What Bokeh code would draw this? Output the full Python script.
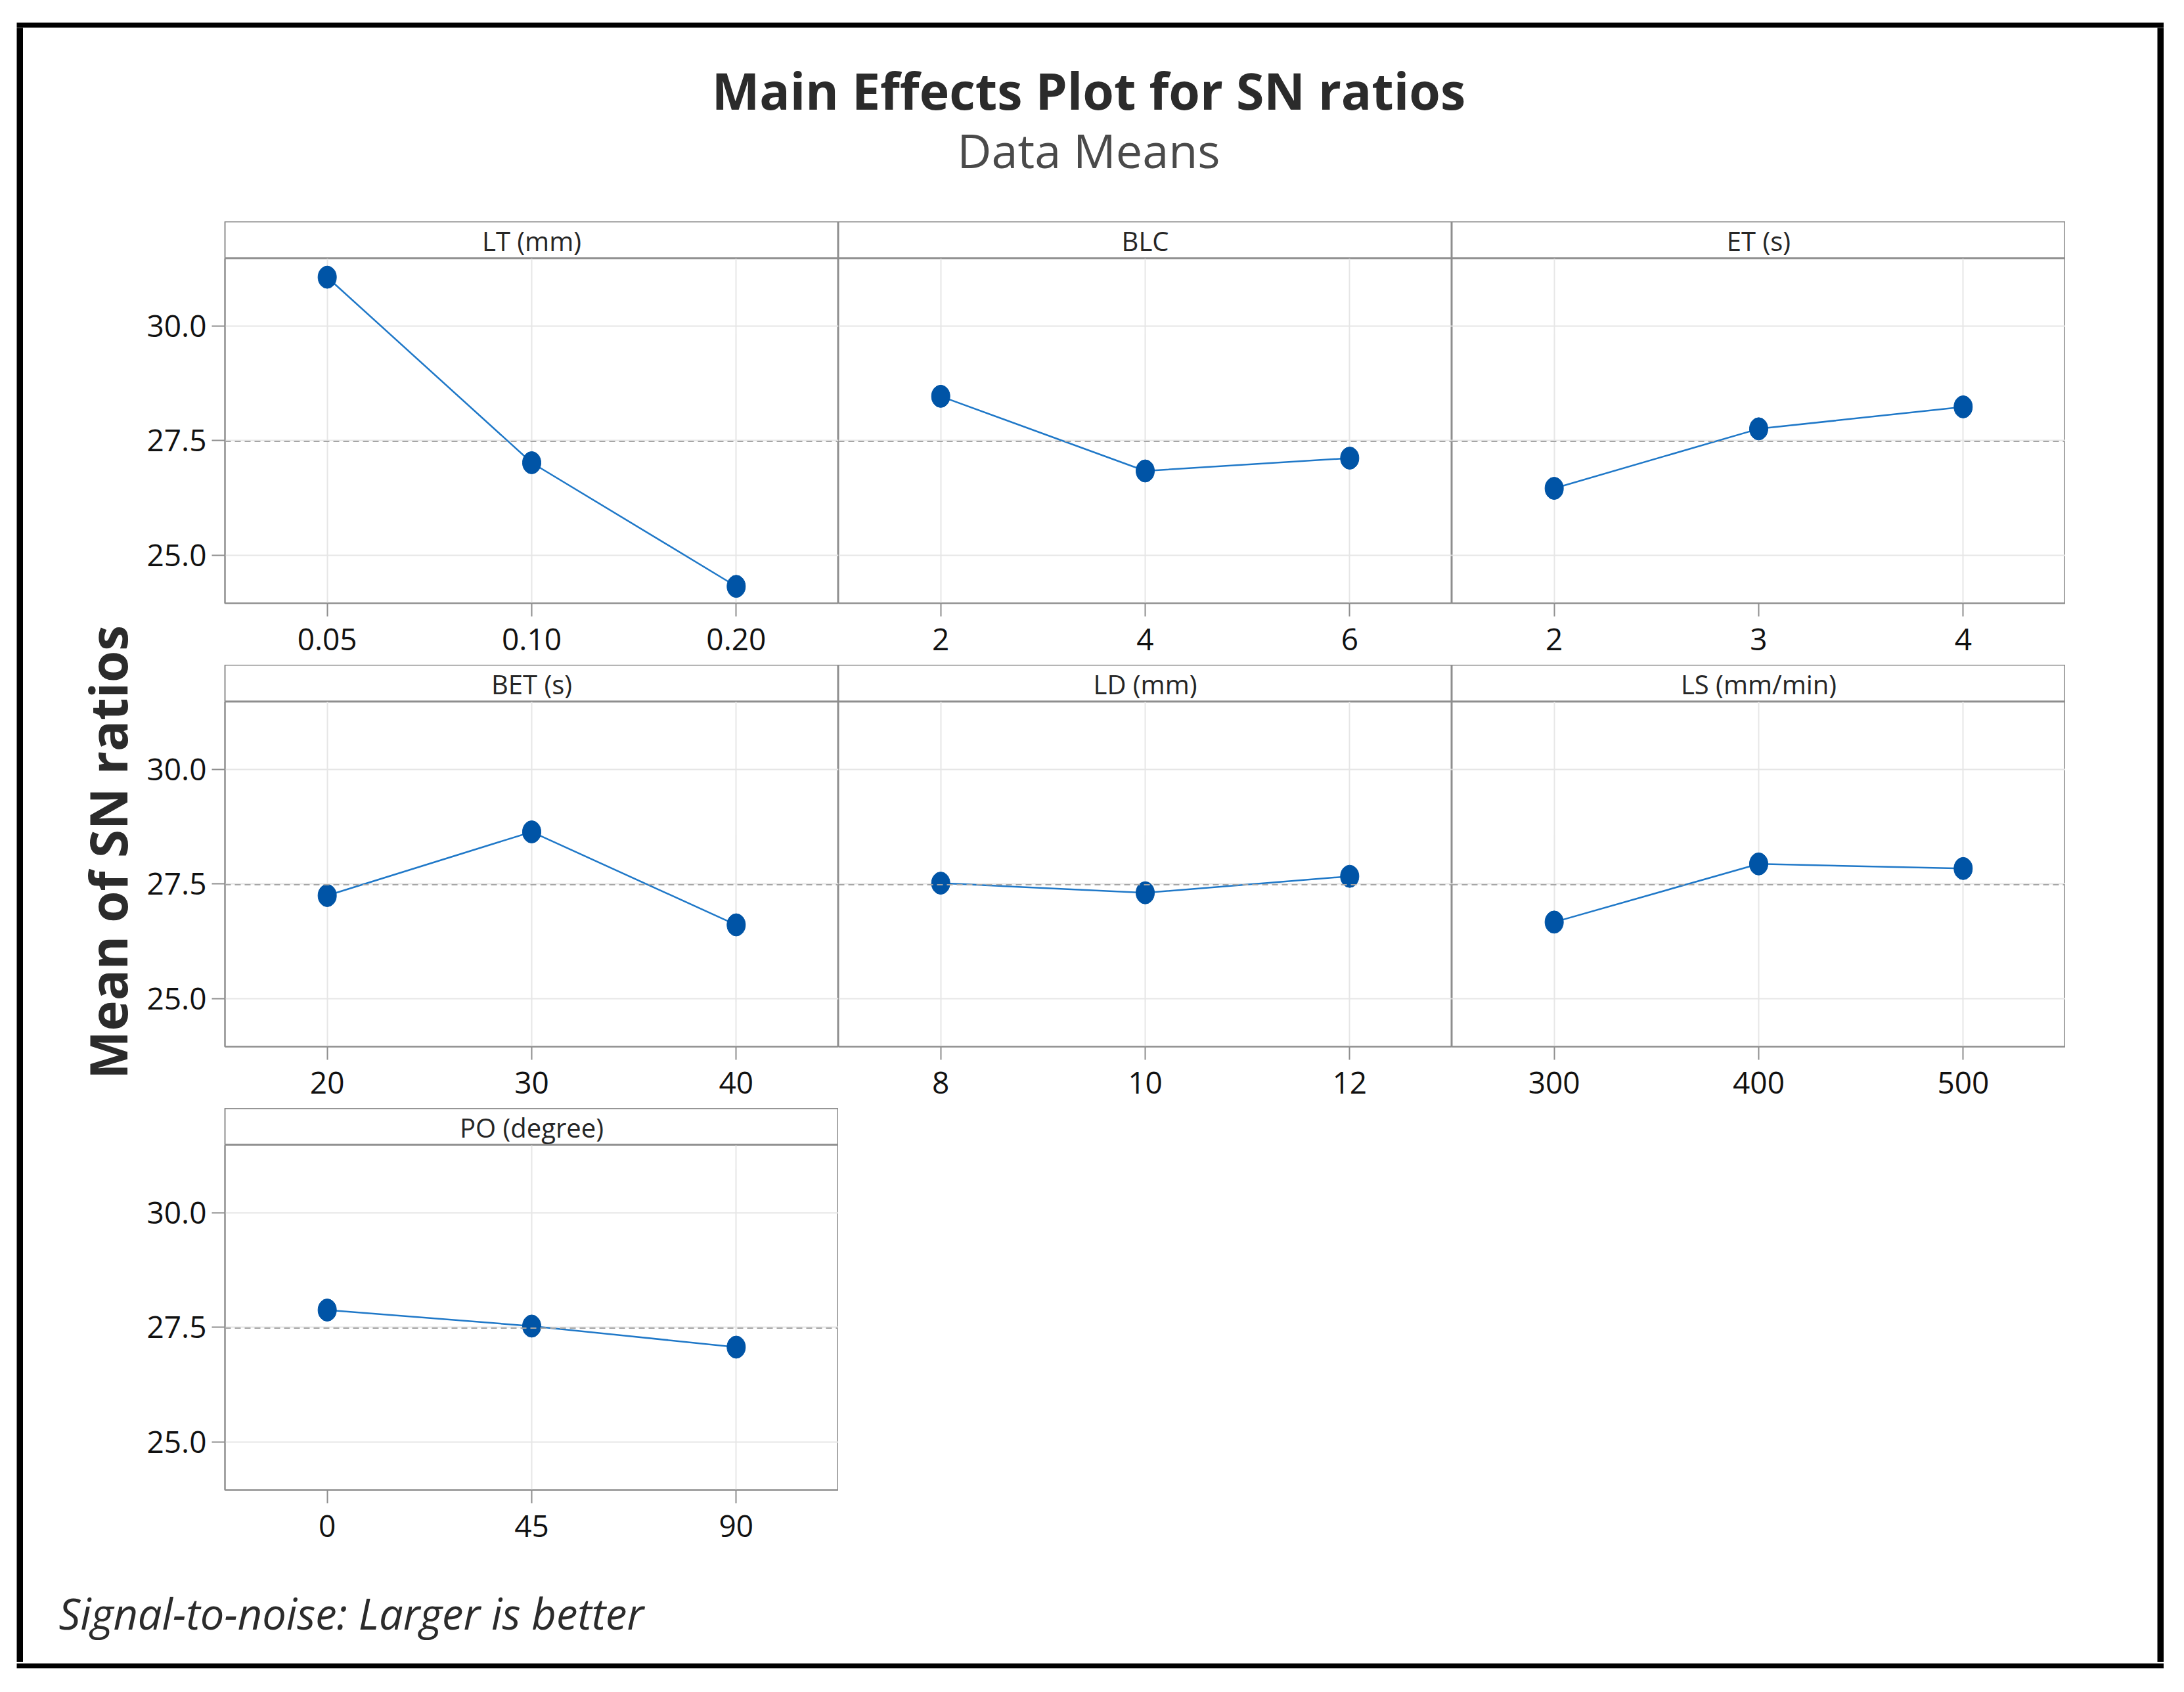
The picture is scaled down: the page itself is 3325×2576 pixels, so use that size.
import numpy as np
from bokeh.plotting import figure
from bokeh.layouts import column, row
from bokeh.models import Label, Span, FixedTicker, Spacer, Range1d, FactorRange, PrintfTickFormatter
from bokeh.embed import file_html
from bokeh.resources import INLINE

# ---------------- data ----------------
factor_names = ["LT (mm)", "BLC", "ET (s)", "BET (s)", "LD (mm)", "LS (mm/min)", "PO (degree)"]
levels_LT = ["0.05", "0.10", "0.20"]
sn_LT = [31.07, 27.02, 24.32]
levels_BLC = ["2", "4", "6"]
sn_BLC = [28.47, 26.84, 27.12]
levels_ET = ["2", "3", "4"]
sn_ET = [26.46, 27.76, 28.24]
levels_BET = ["20", "30", "40"]
sn_BET = [27.25, 28.64, 26.61]
levels_LD = ["8", "10", "12"]
sn_LD = [27.52, 27.31, 27.67]
levels_LS = ["300", "400", "500"]
sn_LS = [26.67, 27.94, 27.84]
levels_PO = ["0", "45", "90"]
sn_PO = [27.88, 27.53, 27.07]
y_ticks = [25.0, 27.5, 30.0]
y_lo, y_hi = 23.95, 31.48

all_levels = [levels_LT, levels_BLC, levels_ET, levels_BET, levels_LD, levels_LS, levels_PO]
all_sn = [sn_LT, sn_BLC, sn_ET, sn_BET, sn_LD, sn_LS, sn_PO]
grand_mean = float(np.mean(np.concatenate([np.array(v) for v in all_sn])))

title_text = "Main Effects Plot for SN ratios"
subtitle_text = "Data Means"
ylabel_text = "Mean of SN ratios"
footnote_text = "Signal-to-noise: Larger is better"

# ---------------- style ----------------
FONT = "Open Sans"
GRAY = "#8e8e8e"
GRID = "#e6e6e6"
LINE = "#1f78c8"
MARK = "#0054a6"
FW, FH, SH = 934, 525, 56
LEFT = 122
BOTTOM = 94


def bare(width, height, bg="white"):
    f = figure(width=width, height=height, x_axis_location=None, y_axis_location=None,
               min_border=0, toolbar_location=None, output_backend="svg",
               outline_line_color=None, background_fill_color=bg, border_fill_color=bg,
               x_range=Range1d(0, 1), y_range=Range1d(0, 1))
    f.grid.visible = False
    return f


def make_panel(name, levels, vals, first):
    left = LEFT if first else 0
    strip = figure(frame_width=FW, frame_height=SH, min_border_left=left, min_border_right=0,
                   min_border_top=0, min_border_bottom=0, x_axis_location=None, y_axis_location=None,
                   x_range=Range1d(0, 1), y_range=Range1d(0, SH), toolbar_location=None,
                   output_backend="svg", outline_line_color=GRAY, outline_line_width=2)
    strip.grid.visible = False
    strip.add_layout(Label(x=0.5, y=27.5, text=name,
                           text_align="center", text_baseline="middle",
                           text_font=FONT, text_font_size="40px", text_color="#262626"))

    p = figure(frame_width=FW, frame_height=FH, min_border_left=left, min_border_right=0,
               min_border_top=0, min_border_bottom=BOTTOM,
               x_range=FactorRange(*levels, range_padding=0), y_range=Range1d(y_lo, y_hi),
               y_axis_location="left" if first else None, toolbar_location=None,
               output_backend="svg", outline_line_color=GRAY, outline_line_width=2)
    p.xgrid.grid_line_color = GRID
    p.xgrid.grid_line_width = 2
    p.ygrid.ticker = FixedTicker(ticks=y_ticks)
    p.ygrid.grid_line_color = GRID
    p.ygrid.grid_line_width = 2
    p.add_layout(Span(location=grand_mean, dimension="width", line_color="#a6a6a6",
                      line_dash="9 6", line_width=2))
    p.line(x=levels, y=vals, line_color=LINE, line_width=2.5)
    p.ellipse(x=levels, y=vals, width=28, height=34, width_units="screen",
              height_units="screen", fill_color=MARK, line_color=MARK)

    for ax in p.axis:
        ax.axis_line_color = GRAY
        ax.axis_line_width = 2
        ax.major_tick_line_color = GRAY
        ax.major_tick_line_width = 2
        ax.major_tick_out = 20
        ax.major_tick_in = 0
        ax.minor_tick_line_color = None
        ax.major_label_text_font = FONT
        ax.major_label_text_font_size = "46px"
        ax.major_label_text_color = "#111111"
    p.xaxis.major_label_standoff = 18
    if first:
        p.yaxis.ticker = FixedTicker(ticks=y_ticks)
        p.yaxis.formatter = PrintfTickFormatter(format="%.1f")
        p.yaxis.major_label_standoff = 8
    return column(strip, p, spacing=0)


panels = [make_panel(n, l, v, i % 3 == 0)
          for i, (n, l, v) in enumerate(zip(factor_names, all_levels, all_sn))]

grid_col = column(
    row(panels[0], panels[1], panels[2], spacing=0),
    row(panels[3], panels[4], panels[5], spacing=0),
    row(panels[6], spacing=0),
    spacing=0,
)

GRID_H = 3 * (SH + FH + BOTTOM)
CONTENT_W = 3249

label_fig = bare(185, GRID_H)
label_fig.add_layout(Label(x=128, y=GRID_H - 960, x_units="screen", y_units="screen",
                           text=ylabel_text, angle=90, angle_units="deg",
                           text_align="center", text_baseline="middle",
                           text_font=FONT, text_font_size="78px", text_font_style="bold",
                           text_color="#2b2b2b"))

right_fill = Spacer(width=CONTENT_W - 185 - (LEFT + 3 * FW), height=GRID_H)

header = bare(CONTENT_W, 295)
header.add_layout(Label(x=1622, y=200, x_units="screen", y_units="screen", text=title_text,
                        text_align="center", text_baseline="middle", text_font=FONT,
                        text_font_size="77px", text_font_style="bold", text_color="#2b2b2b"))
header.add_layout(Label(x=1622, y=110, x_units="screen", y_units="screen", text=subtitle_text,
                        text_align="center", text_baseline="middle", text_font=FONT,
                        text_font_size="72px", text_color="#4a4a4a"))

footer = bare(CONTENT_W, 168)
footer.add_layout(Label(x=54, y=75, x_units="screen", y_units="screen", text=footnote_text,
                        text_align="left", text_baseline="alphabetic", text_font=FONT,
                        text_font_size="65px", text_font_style="italic", text_color="#2b2b2b"))

content = column(header, row(label_fig, grid_col, right_fill, spacing=0), footer, spacing=0)
CONTENT_H = 295 + GRID_H + 168

B = 10
bordered = column(
    bare(CONTENT_W + 2 * B, B, "black"),
    row(bare(B, CONTENT_H, "black"), content, bare(B, CONTENT_H, "black"), spacing=0),
    bare(CONTENT_W + 2 * B, B, "black"),
    spacing=0,
)

root = column(Spacer(width=10, height=32), row(Spacer(width=25, height=10), bordered, spacing=0), spacing=0)

open("out.html", "w").write(file_html(root, INLINE))
